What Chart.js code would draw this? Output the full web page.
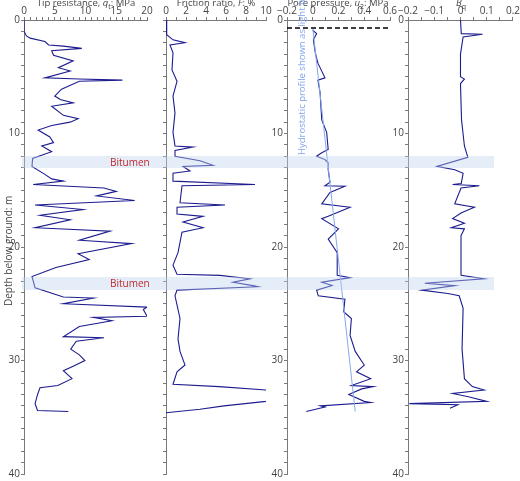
<!DOCTYPE html>
<html>
<head>
<meta charset="utf-8">
<script src="https://cdn.jsdelivr.net/npm/chart.js@4"></script>
<style>
  body { margin: 0; background: #fff; }
  #wrap { position: relative; width: 520px; height: 481px; font-family: "Open Sans", sans-serif; color: #444; }
  canvas { position: absolute; top: 0; }
  .title { position: absolute; top: -4px; font-size: 9.5px; white-space: nowrap; transform: translateX(-50%); }
  .band { position: absolute; left: 22px; width: 472px; background: rgba(190, 210, 238, 0.4); }
  .bit { position: absolute; left: 110px; font-size: 10px; color: #c0282d; transform: translateY(-50%); }
  .rot { position: absolute; font-size: 10px; white-space: nowrap; transform: rotate(-90deg); transform-origin: left top; }
</style>
</head>
<body>
<div id="wrap">
  <canvas id="c1" width="155" height="481" style="left:0px"></canvas>
  <canvas id="c2" width="130" height="481" style="left:146px"></canvas>
  <canvas id="c3" width="135" height="481" style="left:263px"></canvas>
  <canvas id="c4" width="136" height="481" style="left:384px"></canvas>
  <div class="title" style="left:86px">Tip resistance, <i>q</i><sub style="font-size:7px">t</sub>: MPa</div>
  <div class="title" style="left:216px">Friction ratio, <i>F</i>: %</div>
  <div class="title" style="left:338px">Pore pressure, <i>u</i><sub style="font-size:7px">2</sub>: MPa</div>
  <div class="title" style="left:461px"><i>B</i><sub style="font-size:7px">q</sub></div>
  <div class="rot" style="left:1px; top:306px">Depth below ground: m</div>
  <div class="rot" style="left:295px; top:155px; color:#7fa2ee; font-size:9.5px">Hydrostatic profile shown as light blue line</div>
</div>
<script>
const tipResistance = [[0,0],[1.0,0],[1.4,0.4],[1.6,1],[1.9,3.4],[2.2,4],[2.3,6.4],[2.5,9.4],[2.7,4.5],[3.1,4.8],[3.6,8],[4.2,5.6],[4.5,7.5],[5.1,3.4],[5.2,9],[5.3,16],[5.4,9],[6.1,6.1],[6.7,5],[7.0,5.9],[7.3,8],[7.6,4.5],[8.4,6.4],[8.7,8.8],[9.0,7.5],[9.3,4.5],[9.7,2.3],[10.3,4.2],[10.8,4.8],[11.1,2.9],[11.6,4.5],[12.2,1.4],[12.9,1.3],[13.6,3.4],[14.0,4.5],[14.2,6.4],[14.5,1.5],[14.8,13],[15.1,15],[15.5,11.8],[15.9,18],[16.3,1.8],[16.7,9.6],[17.2,2.6],[17.6,7.5],[18.3,1.8],[18.6,14],[19.4,9],[19.7,17.5],[20.6,8.8],[21.1,10.6],[21.8,5.2],[22.6,1.3],[23.6,1.8],[24.4,6.4],[24.5,11.3],[25.0,6.4],[25.3,20],[25.5,19.4],[26.1,20],[26.2,11.3],[26.5,14.3],[27.0,9],[27.9,6.4],[28.0,13],[28.3,8.5],[29.0,7.6],[29.5,9],[30.0,9.9],[30.5,8],[30.9,6.4],[31.6,7.8],[32.2,5.5],[32.4,2.6],[33.0,2.2],[33.8,1.8],[34.4,2.2],[34.5,7.2]];
const frictionRatio = [[0,0],[0.6,0.07],[1.3,0.07],[1.75,0.7],[2.0,1.9],[2.2,0.4],[2.9,0.7],[4.4,0.6],[5.4,1.1],[6.7,0.7],[8.2,0.9],[9.9,0.7],[11.1,0.9],[11.2,2.7],[11.5,0.9],[12.0,0.9],[12.4,3.4],[12.8,4.7],[12.9,1.7],[13.3,2.4],[13.5,0.7],[14.2,0.7],[14.5,8.9],[14.6,1.6],[16.1,1.4],[16.3,5.9],[16.5,1.1],[17.1,1.1],[17.3,3.7],[17.8,1.7],[18.3,3.7],[18.7,1.6],[20.5,1.2],[21.6,0.7],[22.4,1.1],[22.5,5.4],[22.8,8.4],[23.1,6.7],[23.4,8.7],[23.5,9.2],[23.8,1.1],[24.3,0.9],[26.3,1.4],[28.1,1.2],[29.2,1.4],[30.4,1.9],[31.0,1.1],[32.1,0.7],[32.3,5.3],[32.6,10],[33.0,12],[33.6,10],[34.0,5.8],[34.3,3.4],[34.6,0]];
const porePressure = [[0.9,0],[1.2,0.03],[1.75,0.005],[2.9,0.02],[3.8,0.04],[5.1,0.095],[5.3,0.04],[6.4,0.057],[8.8,0.07],[9.9,0.108],[11.4,0.12],[11.7,0.07],[12.0,0.03],[12.3,0.095],[12.6,0.12],[13.2,0.12],[14.3,0.134],[14.6,0.095],[14.65,0.25],[15.2,0.134],[16.2,0.07],[16.5,0.29],[17.3,0.12],[17.5,0.07],[18.4,0.2],[19.3,0.12],[20.5,0.19],[22.5,0.19],[22.7,0.29],[23.1,0.07],[23.4,0.15],[23.8,0.03],[24.3,0.043],[24.6,0.25],[25.7,0.24],[26.3,0.3],[27.8,0.29],[29.2,0.33],[30.4,0.4],[31.0,0.34],[31.6,0.45],[32.2,0.3],[32.3,0.47],[32.5,0.38],[33.0,0.28],[33.6,0.4],[33.7,0.45],[34.0,0.06],[34.1,0.095],[34.5,-0.05]];
const hydrostatic = [[0.7,0],[34.5,0.33]];
const waterTable = 0.7;
const poreRatio = [[0,0],[1.2,0.003],[1.25,0.084],[1.5,0.01],[3.0,0],[5.0,0],[5.2,0.015],[5.6,0],[8.8,0.004],[11.1,0.015],[12.1,0.028],[12.9,-0.09],[13.2,-0.022],[13.5,0.01],[14.4,0.003],[14.5,-0.03],[14.6,0.072],[14.8,0.002],[16.2,-0.022],[16.5,0.053],[17.0,0.002],[17.5,-0.03],[17.9,0.015],[18.3,-0.035],[18.4,0.015],[19.0,0.002],[22.5,0.002],[22.8,0.09],[23.2,-0.136],[23.4,-0.022],[23.8,-0.148],[24.1,-0.048],[24.3,-0.005],[25.4,0.01],[29.0,0.006],[31.6,0.015],[32.3,0.045],[32.6,0.09],[32.9,-0.03],[33.2,0.03],[33.6,0.1],[33.8,-0.195],[33.9,-0.01],[34.2,-0.04]];
const bitumenLayers = [[12.0, 13.0], [22.6, 23.8]];

const lineColor = '#1c1c8f';
const axisColor = '#7a7a7a';
const font = { family: 'Open Sans', size: 10 };

function toPoints(pairs) {
    return pairs.map(p => ({ x: p[1], y: p[0] }));
}

function makePanel(id, opts) {
    const xTickLabel = v => {
        const k = Math.round(v / opts.labelStep * 1000) / 1000;
        if (Math.abs(k - Math.round(k)) > 1e-6) return '';
        const r = Math.round(v * 100) / 100;
        return r < 0 ? '\u2212' + Math.abs(r) : String(r);
    };
    return new Chart(document.getElementById(id), {
        type: 'scatter',
        data: { datasets: opts.datasets },
        options: {
            responsive: false,
            animation: false,
            layout: { padding: { right: opts.padRight, bottom: 5 } },
            plugins: { legend: { display: false }, tooltip: { enabled: false } },
            scales: {
                x: {
                    position: 'top',
                    min: opts.min, max: opts.max,
                    afterFit: s => { s.height = 20; },
                    border: { color: axisColor },
                    grid: { drawOnChartArea: false, tickLength: 3, color: axisColor },
                    ticks: { stepSize: opts.minorStep, autoSkip: false, maxRotation: 0, padding: 0, color: '#444', font, callback: xTickLabel }
                },
                y: {
                    reverse: true, min: 0, max: 40,
                    afterFit: s => { s.width = opts.yWidth; },
                    border: { color: axisColor },
                    grid: { drawOnChartArea: false, tickLength: 3, color: axisColor },
                    ticks: {
                        stepSize: 1, autoSkip: false, padding: 1, color: '#444', font,
                        callback: v => (opts.yLabels && v % 10 === 0) ? String(v) : ''
                    }
                }
            }
        },
        plugins: opts.plugins || []
    });
}

const traceStyle = { showLine: true, borderColor: lineColor, borderWidth: 1.1, pointRadius: 0, tension: 0 };

// Bitumen bands placed from the depth scale of the first panel
const bandPlugin = {
    id: 'bands',
    afterRender(chart) {
        if (document.querySelector('.band')) return;
        const y = chart.scales.y;
        const wrap = document.getElementById('wrap');
        bitumenLayers.forEach(([top, bottom]) => {
            const band = document.createElement('div');
            band.className = 'band';
            const t = y.getPixelForValue(top), b = y.getPixelForValue(bottom);
            band.style.top = t + 'px';
            band.style.height = (b - t) + 'px';
            wrap.appendChild(band);
            const label = document.createElement('div');
            label.className = 'bit';
            label.textContent = 'Bitumen';
            label.style.top = ((t + b) / 2) + 'px';
            wrap.appendChild(label);
        });
    }
};

makePanel('c1', {
    min: 0, max: 20, minorStep: 1, labelStep: 5, yWidth: 24, padRight: 8, yLabels: true,
    datasets: [{ ...traceStyle, data: toPoints(tipResistance) }],
    plugins: [bandPlugin]
});

makePanel('c2', {
    min: 0, max: 10, minorStep: 1, labelStep: 2, yWidth: 20, padRight: 10, yLabels: false,
    datasets: [{ ...traceStyle, data: toPoints(frictionRatio) }]
});

makePanel('c3', {
    min: -0.2, max: 0.6, minorStep: 0.1, labelStep: 0.2, yWidth: 24, padRight: 8, yLabels: true,
    datasets: [
        { showLine: true, borderColor: '#000', borderWidth: 1.5, borderDash: [5, 3], pointRadius: 0,
          data: [{ x: -0.2, y: waterTable }, { x: 0.6, y: waterTable }] },
        { showLine: true, borderColor: '#86a8f0', borderWidth: 1, pointRadius: 0, data: toPoints(hydrostatic) },
        { ...traceStyle, data: toPoints(porePressure) }
    ]
});

makePanel('c4', {
    min: -0.2, max: 0.2, minorStep: 0.05, labelStep: 0.1, yWidth: 24, padRight: 6, yLabels: true,
    datasets: [{ ...traceStyle, data: toPoints(poreRatio) }]
});
</script>
</body>
</html>
